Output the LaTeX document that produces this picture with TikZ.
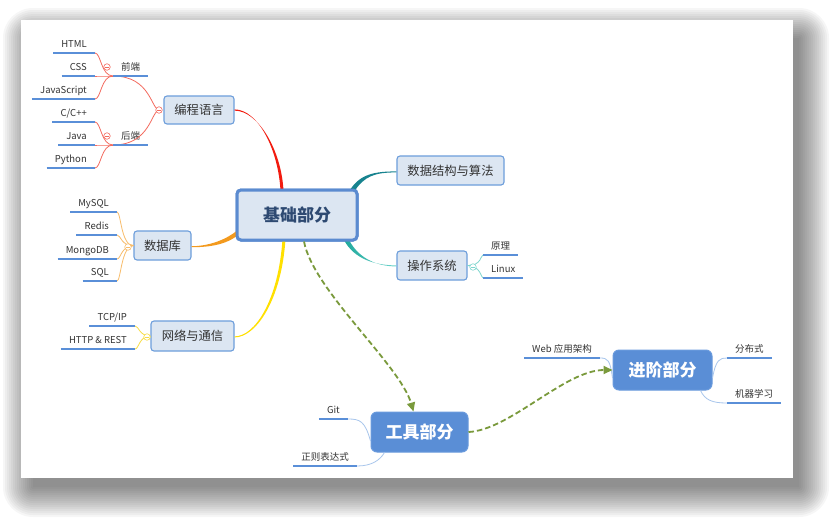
\documentclass[tikz,border=0pt]{standalone}
\usepackage{fontspec}
\newfontfamily\cjk{Noto Sans CJK SC}
\usetikzlibrary{arrows.meta,calc}
\definecolor{boxfill}{HTML}{DCE6F2}
\definecolor{boxdraw}{HTML}{6D9EDB}
\definecolor{basedraw}{HTML}{5B8BD0}
\definecolor{basetext}{HTML}{2E4A72}
\definecolor{darkfill}{HTML}{5A8ED6}
\definecolor{darkdraw}{HTML}{6A9BDD}
\definecolor{ulblue}{HTML}{5A8FD8}
\definecolor{thinblue}{HTML}{A8C6EC}
\definecolor{brred}{HTML}{F21B0F}
\definecolor{lred}{HTML}{F36A5E}
\definecolor{brorange}{HTML}{F39A1E}
\definecolor{lorange}{HTML}{F8BC6A}
\definecolor{bryellow}{HTML}{FFE000}
\definecolor{lyellow}{HTML}{F7DC45}
\definecolor{brteal}{HTML}{17838F}
\definecolor{brteal2}{HTML}{1FA89C}
\definecolor{brteal3}{HTML}{6FD6CE}
\definecolor{lteal}{HTML}{7ED6CE}
\definecolor{dgreen}{HTML}{7A9A3C}
\definecolor{txt}{HTML}{333333}
\tikzset{
  subbox/.style={draw=boxdraw, fill=boxfill, line width=1.1pt, rounded corners=3pt,
    font=\cjk\fontsize{12.3}{14}\selectfont, text=txt, inner sep=0pt, align=center},
  basebox/.style={draw=basedraw, fill=boxfill, line width=3pt, rounded corners=4pt,
    font=\cjk\bfseries\fontsize{17}{20}\selectfont, text=basetext, inner sep=0pt},
  darkbox/.style={draw=darkdraw, fill=darkfill, line width=1pt, rounded corners=6pt,
    font=\cjk\bfseries\fontsize{17}{20}\selectfont, text=white, inner sep=0pt},
  leaf/.style={font=\cjk\fontsize{9.5}{11}\selectfont, text=txt, inner xsep=8pt,
    inner ysep=0pt, text height=7.5pt, text depth=5pt},
  ul/.style={draw=ulblue, line width=1.8pt},
  thin/.style={line width=0.8pt},
  toggle/.style={circle, draw=#1, fill=white, line width=0.6pt, minimum size=6.5pt, inner sep=0pt,
    path picture={\draw[#1, line width=0.6pt] ([xshift=-1.6pt]path picture bounding box.center) -- ([xshift=1.6pt]path picture bounding box.center);}},
  dasharrow/.style={draw=dgreen, line width=1.8pt, dash pattern=on 5.5pt off 3pt,
    -{Triangle[length=9pt,width=8pt,fill=dgreen]}},
}
\begin{document}
\begin{tikzpicture}[x=1pt,y=-1pt]
\useasboundingbox (0,0) rectangle (835,520);
% soft shadow built from layers
\foreach \k in {15,14,...,0} {
  \pgfmathsetmacro\e{2*\k}
  \fill[black, opacity=0.035, rounded corners=\e pt+0.01pt] (33-\e,38-\e) rectangle (799+\e,487+\e);
}
% card
\fill[white] (21,20) rectangle (793,478);

% main nodes
\node[basebox, minimum width=120pt, minimum height=50pt] (base) at (297,215) {基础部分};
\node[subbox, minimum width=70pt, minimum height=28pt] (prog) at (199,110) {编程语言};
\node[subbox, minimum width=107pt, minimum height=29pt] (ds) at (450.5,170.5) {数据结构与算法};
\node[subbox, minimum width=57pt, minimum height=29pt] (db) at (162.5,245.5) {数据库};
\node[subbox, minimum width=70pt, minimum height=29pt] (os) at (432,265.5) {操作系统};
\node[subbox, minimum width=83pt, minimum height=30pt] (net) at (192.5,336) {网络与通信};
\node[darkbox, minimum width=97pt, minimum height=40pt] (tools) at (419.5,432) {工具部分};
\node[darkbox, minimum width=99pt, minimum height=40pt] (adv) at (662.5,370) {进阶部分};

% tapered main branches
\fill[brred] (280.5,191) .. controls (278.5,150) and (258,109.4) .. (prog.east |- 0,109.4)
  -- (prog.east |- 0,110.6) .. controls (258,110.6) and (281.5,150) .. (283.5,191) -- cycle;
\fill[brteal] (350,190) .. controls (360,174) and (375,171.4) .. (ds.west |- 0,171.4)
  -- (ds.west |- 0,172.4) .. controls (375,172.4) and (364,176) .. (354,192) -- cycle;
\shade[left color=brteal2, right color=brteal3] (344,240) .. controls (354,259) and (375,265.4) .. (os.west |- 0,265.4)
  -- (os.west |- 0,266.4) .. controls (375,266.4) and (357,257) .. (348,238) -- cycle;
\fill[brorange] (239,229) .. controls (224,242) and (205,246.2) .. (db.east |- 0,246.2)
  -- (db.east |- 0,247.2) .. controls (205,247.2) and (226,246) .. (239,234) -- cycle;
\fill[bryellow] (282.5,239) .. controls (278.5,300) and (255,336.4) .. (net.east |- 0,336.4)
  -- (net.east |- 0,337.4) .. controls (256,337.4) and (281.5,300) .. (285.5,239) -- cycle;
% redraw base node on top of branch ends
\node[basebox, minimum width=120pt, minimum height=50pt] at (base) {基础部分};

% leaves: programming
\node[leaf, anchor=south west] (fe) at (113,76) {前端};
\node[leaf, anchor=south west] (be) at (113,145) {后端};
\node[leaf, anchor=south east] (html) at (95,53) {HTML};
\node[leaf, anchor=south east] (css) at (95,76) {CSS};
\node[leaf, anchor=south east] (js) at (95,99) {JavaScript};
\node[leaf, anchor=south east] (cpp) at (95,122) {C/C++};
\node[leaf, anchor=south east] (java) at (95,145) {Java};
\node[leaf, anchor=south east] (py) at (95,168) {Python};
% database
\node[leaf, anchor=south east] (mysql) at (117,212) {MySQL};
\node[leaf, anchor=south east] (redis) at (117,235) {Redis};
\node[leaf, anchor=south east] (mongo) at (117,259) {MongoDB};
\node[leaf, anchor=south east] (sql) at (117,281) {SQL};
% network
\node[leaf, anchor=south east] (tcp) at (135,326) {TCP/IP};
\node[leaf, anchor=south east] (http) at (135,349) {HTTP \& REST};
% os
\node[leaf, anchor=south west] (yl) at (483,255) {原理};
\node[leaf, anchor=south west] (linux) at (483,278) {Linux};
% tools
\node[leaf, anchor=south east] (git) at (348,419) {Git};
\node[leaf, anchor=south east] (re) at (357,466) {正则表达式};
% advanced
\node[leaf, anchor=south east] (web) at (600,358) {Web 应用架构};
\node[leaf, anchor=south west] (dist) at (727,358) {分布式};
\node[leaf, anchor=south west] (ml) at (727,403) {机器学习};

% thin connectors
\foreach \c in {fe,be}
  \draw[lred, thin] ($(prog.west)+(-4,0)$) .. controls (151,110) and (151,0 |- \c.south west) .. (\c.south west);
\foreach \c in {html,css,js}
  \draw[lred, thin] (fe.south west) .. controls (101,76) and (101,0 |- \c.south east) .. (\c.south east);
\foreach \c in {cpp,java,py}
  \draw[lred, thin] (be.south west) .. controls (101,145) and (101,0 |- \c.south east) .. (\c.south east);
\foreach \c in {mysql,redis,mongo,sql}
  \draw[lorange, thin] (db.west) .. controls (121,246) and (121,0 |- \c.south east) .. (\c.south east);
\foreach \c in {tcp,http}
  \draw[lyellow, thin] (net.west) .. controls (139,336) and (139,0 |- \c.south east) .. (\c.south east);
\foreach \c in {yl,linux}
  \draw[lteal, thin] (os.east) .. controls (481,266) and (481,0 |- \c.south west) .. (\c.south west);
\draw[thinblue, thin] (git.south east) .. controls (360,419) and (365,421) .. ([yshift=-9pt]tools.west);
\draw[thinblue, thin] (re.south east) .. controls (372,466) and (380,460) .. ([xshift=-35pt]tools.south);
\draw[thinblue, thin] (web.south east) .. controls (608,358) and (610,360) .. ([yshift=-8pt]adv.west);
\draw[thinblue, thin] ([yshift=-8pt]adv.east) .. controls (716,359) and (720,358) .. (dist.south west);
\draw[thinblue, thin] ([xshift=38pt]adv.south) .. controls (705,400) and (712,403) .. (ml.south west);

% underlines
\foreach \n in {fe,be,html,css,js,cpp,java,py,mysql,redis,mongo,sql,tcp,http,yl,linux,git,re,web,dist,ml}
  \draw[ul] (\n.south west) -- (\n.south east);

% toggles
\node[toggle=lred] (t1) at (159,110) {};
\node[toggle=lred] (t2) at (107,67) {};
\node[toggle=lred] (t3) at (107,136) {};
\node[toggle=lorange] (t4) at (128,247) {};
\node[toggle=lyellow] (t5) at (147,337) {};
\node[toggle=lteal] (t6) at (473,267) {};

% dashed relationship arrows
\draw[dasharrow] ([xshift=7pt]base.south) .. controls (313,290) and (400,365) .. ([xshift=-6pt]tools.north);
\draw[dasharrow] (tools.east) .. controls (510,430) and (565,370) .. (adv.west);
\end{tikzpicture}
\end{document}
